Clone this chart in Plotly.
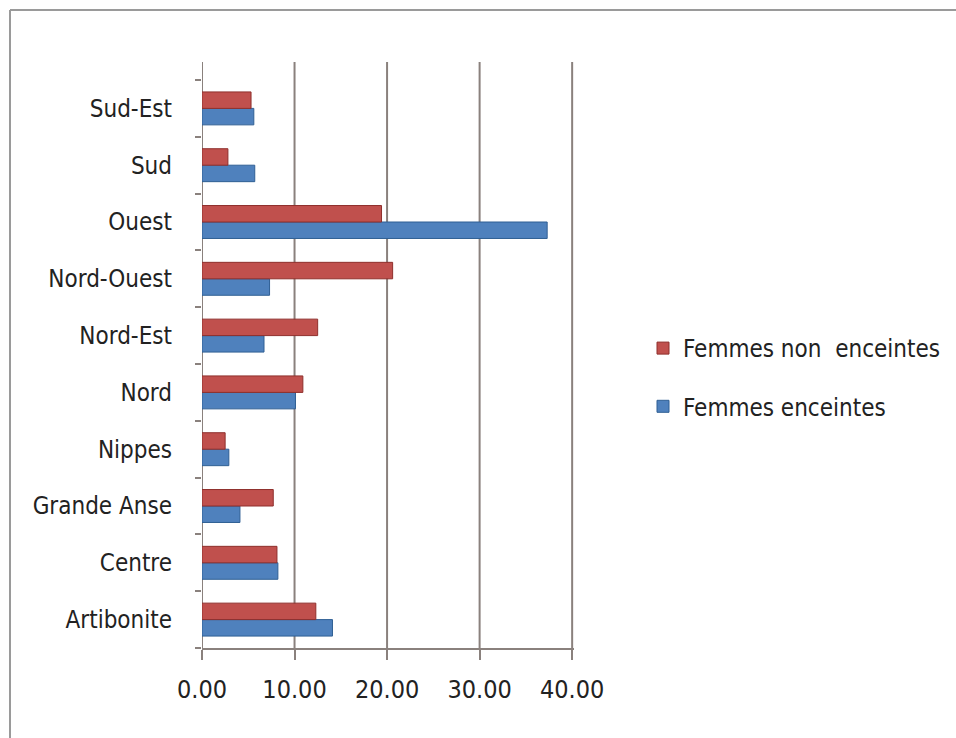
import plotly.graph_objects as go

regions = ["Artibonite", "Centre", "Grande Anse", "Nippes", "Nord",
           "Nord-Est", "Nord-Ouest", "Ouest", "Sud", "Sud-Est"]
enceintes = [14.1, 8.2, 4.1, 2.9, 10.1, 6.7, 7.3, 37.3, 5.7, 5.6]
non_enceintes = [12.3, 8.1, 7.7, 2.5, 10.9, 12.5, 20.6, 19.4, 2.8, 5.3]
x_ticks = [0, 10, 20, 30, 40]

BLUE = "#4F81BD"
RED = "#C0504D"
GRID = "#8a817d"
FONT = "Liberation Sans Narrow, DejaVu Sans Condensed, Noto Sans, sans-serif"

W, H = 956, 738
L, R, T, B = 202, 382, 80, 90
pw, ph = W - L - R, H - T - B


def px_x(px):
    return (px - L) / pw


def px_y(py):
    return (H - B - py) / ph


fig = go.Figure()
fig.add_trace(go.Bar(
    y=regions, x=enceintes, orientation="h", name="Femmes enceintes",
    marker=dict(color=BLUE, line=dict(color="#2f5f94", width=1)),
    legendgroup="a", legendrank=2,
))
fig.add_trace(go.Bar(
    y=regions, x=non_enceintes, orientation="h", name="Femmes non  enceintes",
    marker=dict(color=RED, line=dict(color="#8f2f2c", width=1)),
    legendgroup="b", legendrank=1,
))

# vertical gridlines running up the back wall
for v in x_ticks:
    fig.add_shape(type="line", xref="x", yref="paper", x0=v, x1=v,
                  y0=0, y1=px_y(62), line=dict(color=GRID, width=2),
                  layer="below")

# outer frame (only top and left edges are visible in the original crop)
frame = dict(color="#9a9a9a", width=2)
fig.add_shape(type="line", xref="paper", yref="paper",
              x0=px_x(10), x1=px_x(960), y0=px_y(10), y1=px_y(10), line=frame)
fig.add_shape(type="line", xref="paper", yref="paper",
              x0=px_x(10), x1=px_x(10), y0=px_y(10), y1=px_y(745), line=frame)

fig.update_layout(
    width=W, height=H, barmode="group", bargap=0.42, bargroupgap=0,
    paper_bgcolor="white", plot_bgcolor="white",
    margin=dict(l=L, r=R, t=T, b=B, autoexpand=False),
    font=dict(family=FONT, size=24, color="#222222"),
    xaxis=dict(range=[0, 40.2], tickvals=x_ticks, tickformat=".2f",
               showgrid=False, zeroline=False, showline=True,
               linecolor=GRID, linewidth=2,
               ticks="outside", tickcolor=GRID, ticklen=10, tickwidth=2,
               ticklabelstandoff=8, tickfont=dict(size=25)),
    yaxis=dict(showline=False, ticks="outside", tickson="boundaries",
               ticklen=6, tickcolor=GRID, tickwidth=2, showgrid=False,
               ticklabelstandoff=29, tickfont=dict(size=24)),
    legend=dict(x=px_x(643), y=px_y(326), xanchor="left", yanchor="top",
                traceorder="grouped", tracegroupgap=24,
                font=dict(size=24), bgcolor="rgba(0,0,0,0)"),
    showlegend=True,
)

fig.write_html("out.html", config={"displayModeBar": False},
               post_script="document.body.style.margin='0';")
